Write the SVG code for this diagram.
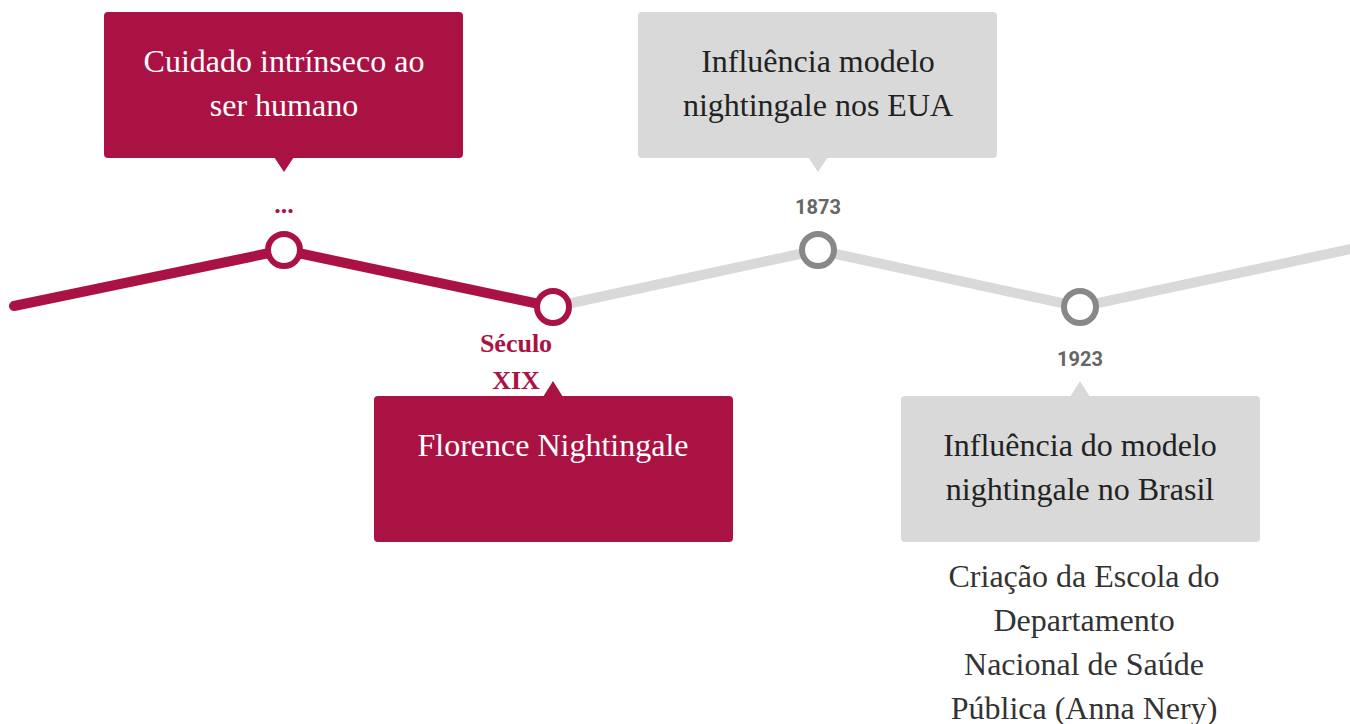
<svg xmlns="http://www.w3.org/2000/svg" width="1350" height="724" viewBox="0 0 1350 724">
<style>
.red{fill:#ab1244}
.gray{fill:#d9d9d9}
.bt{font-family:"Liberation Serif","Times New Roman",serif;font-size:32px;text-anchor:middle}
.wt{fill:#ffffff}
.dt{fill:#222222}
.note{font-family:"Liberation Serif","Times New Roman",serif;font-size:32px;text-anchor:middle;fill:#333333}
.yr{font-family:Roboto,"Liberation Sans",sans-serif;font-size:20px;font-weight:bold;text-anchor:middle;fill:#666666}
.rl{font-family:"Liberation Serif","Times New Roman",serif;font-size:26px;font-weight:bold;text-anchor:middle;fill:#ab1244}
.cr{fill:#ffffff;stroke:#ab1244;stroke-width:6}
.cg{fill:#ffffff;stroke:#888888;stroke-width:6}
</style>
<rect width="1350" height="724" fill="#ffffff"/>
<g id="connectors" fill="none" stroke-width="10" stroke-linecap="round">
<polyline points="553,307 818,250 1080,307 1360,247" stroke="#d9d9d9" stroke-linecap="butt"/>
<polyline points="14,306 284,250 553,307" stroke="#ab1244" stroke-linejoin="round"/>
</g>
<g id="node-cuidado">
<rect class="red" x="104" y="12" width="359" height="146" rx="4"/>
<polygon class="red" points="274,157 294,157 284,172"/>
<text class="bt wt" x="284" y="72">Cuidado intrínseco ao</text>
<text class="bt wt" x="284" y="116">ser humano</text>
<circle class="cr" cx="284" cy="250" r="16"/>
<text class="rl" x="284" y="213">...</text>
</g>
<g id="node-florence">
<rect class="red" x="374" y="396" width="359" height="146" rx="4"/>
<polygon class="red" points="543,397 563,397 553,381"/>
<text class="bt wt" x="553" y="456">Florence Nightingale</text>
<circle class="cr" cx="553" cy="307" r="16"/>
<text class="rl" x="516" y="352">Século</text>
<text class="rl" x="516" y="389">XIX</text>
</g>
<g id="node-1873">
<rect class="gray" x="638" y="12" width="359" height="146" rx="4"/>
<polygon class="gray" points="808,157 828,157 818,172"/>
<text class="bt dt" x="818" y="72">Influência modelo</text>
<text class="bt dt" x="818" y="116">nightingale nos EUA</text>
<circle class="cg" cx="818" cy="250" r="16"/>
<text class="yr" x="818" y="214">1873</text>
</g>
<g id="node-1923">
<rect class="gray" x="901" y="396" width="359" height="146" rx="4"/>
<polygon class="gray" points="1070,397 1090,397 1080,381"/>
<text class="bt dt" x="1080" y="456">Influência do modelo</text>
<text class="bt dt" x="1080" y="500">nightingale no Brasil</text>
<circle class="cg" cx="1080" cy="307" r="16"/>
<text class="yr" x="1080" y="366">1923</text>
<text class="note" x="1084" y="587">Criação da Escola do</text>
<text class="note" x="1084" y="631">Departamento</text>
<text class="note" x="1084" y="675">Nacional de Saúde</text>
<text class="note" x="1084" y="719">Pública (Anna Nery)</text>
</g>
</svg>
